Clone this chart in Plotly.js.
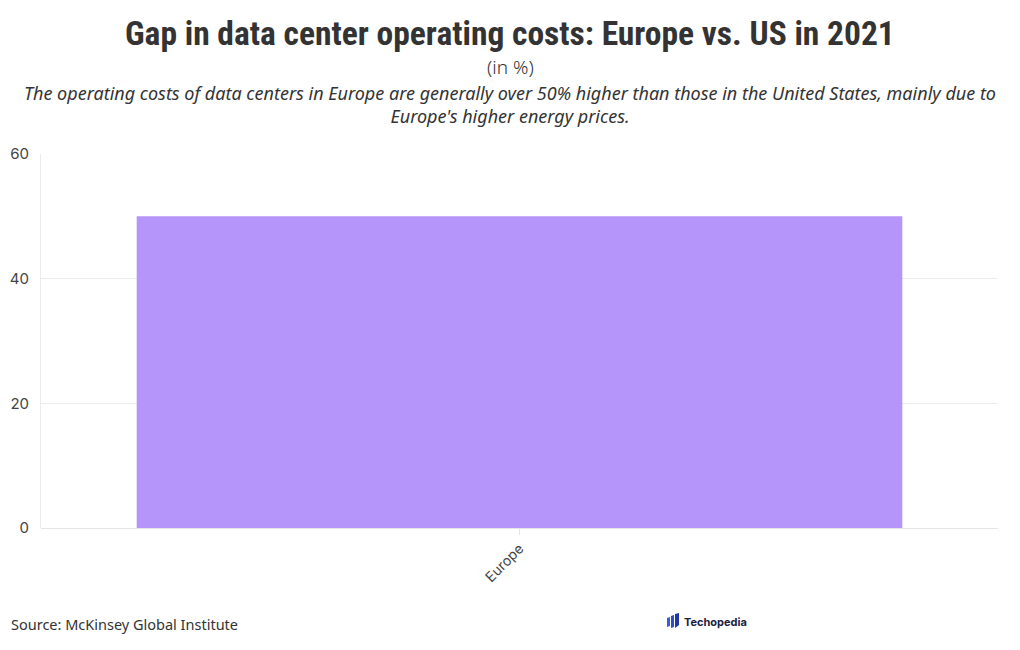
<!DOCTYPE html>
<html><head><meta charset="utf-8">
<script src="https://cdn.plot.ly/plotly-3.0.1.min.js"></script>
<style>html,body{margin:0;padding:0;background:#fff;}#chart{width:1020px;height:650px;}</style>
</head><body><div id="chart"></div>
<script>
const categories = ["Europe"];
const values = [50];
const titleText = "Gap in data center operating costs: Europe vs. US in 2021";
const unitText = "(in %)";
const subtitleText = "The operating costs of data centers in Europe are generally over 50% higher than those in the United States, mainly due to<br>Europe's higher energy prices.";
const sourceText = "Source: McKinsey Global Institute";

const trace = {
  type: "bar", x: categories, y: values,
  marker: {color: "#b595f9"}, hoverinfo: "x+y"
};
const H = 650, T = 154, B = 122, ph = H - T - B;
function py(pix) { return (H - B - pix) / ph; }
function px(x) { return (x - 41) / 957; }
const layout = {
  width: 1020, height: 650,
  margin: {l: 41, r: 22, t: 154, b: 122},
  paper_bgcolor: "#fff", plot_bgcolor: "#fff",
  bargap: 0.2,
  showlegend: false,
  font: {family: "Inter, 'Noto Sans', sans-serif", color: "#444"},
  xaxis: {
    type: "category", tickangle: -45, tickfont: {size: 14, color: "#444"},
    ticks: "outside", ticklen: 6, tickcolor: "#e6e6e6",
    showline: false, showgrid: false, zeroline: false
  },
  yaxis: {
    range: [0, 60], tickvals: [0, 20, 40, 60], tickfont: {size: 15, color: "#444"},
    gridcolor: "#ececec", showline: true, linecolor: "#ececec",
    zeroline: true, zerolinecolor: "#e6e6e6", ticks: "", ticklabelstandoff: 8
  },
  annotations: [
    {text: "<b>" + titleText + "</b>", xref: "paper", yref: "paper", x: px(510), y: py(33), xanchor: "center", yanchor: "middle",
     font: {family: "'Roboto Condensed', 'Liberation Sans Narrow', sans-serif", size: 33.5, color: "#333"}, showarrow: false},
    {text: unitText, xref: "paper", yref: "paper", x: px(510), y: py(67), xanchor: "center", yanchor: "middle",
     font: {family: "'Noto Sans', sans-serif", size: 19, color: "#333", weight: 300}, showarrow: false},
    {text: "<i>" + subtitleText + "</i>", xref: "paper", yref: "paper", x: px(510), y: py(105), xanchor: "center", yanchor: "middle",
     font: {family: "'Noto Sans', sans-serif", size: 18, color: "#333"}, showarrow: false, align: "center"},
    {text: sourceText, xref: "paper", yref: "paper", x: px(9), y: py(624), xanchor: "left", yanchor: "middle",
     font: {family: "'Noto Sans', sans-serif", size: 14.5, color: "#333"}, showarrow: false},
    {text: "<b>Techopedia</b>", xref: "paper", yref: "paper", x: px(682), y: py(622), xanchor: "left", yanchor: "middle",
     font: {family: "Inter, sans-serif", size: 11, color: "#1b2140"}, showarrow: false}
  ],
  shapes: [
    {type: "path", xref: "paper", yref: "paper", path: `M ${px(667)} ${py(618)} L ${px(670)} ${py(617)} L ${px(670)} ${py(626)} L ${px(667)} ${py(627)} Z`, fillcolor: "#3b5bdb", line: {width: 0}},
    {type: "path", xref: "paper", yref: "paper", path: `M ${px(671)} ${py(616)} L ${px(674)} ${py(615)} L ${px(674)} ${py(627)} L ${px(671)} ${py(628)} Z`, fillcolor: "#2f4ccf", line: {width: 0}},
    {type: "path", xref: "paper", yref: "paper", path: `M ${px(675)} ${py(614)} L ${px(679)} ${py(613)} L ${px(679)} ${py(625)} L ${px(675)} ${py(628)} Z`, fillcolor: "#1f35a8", line: {width: 0}}
  ]
};
Plotly.newPlot("chart", [trace], layout, {displayModeBar: false, staticPlot: true});
</script></body></html>
